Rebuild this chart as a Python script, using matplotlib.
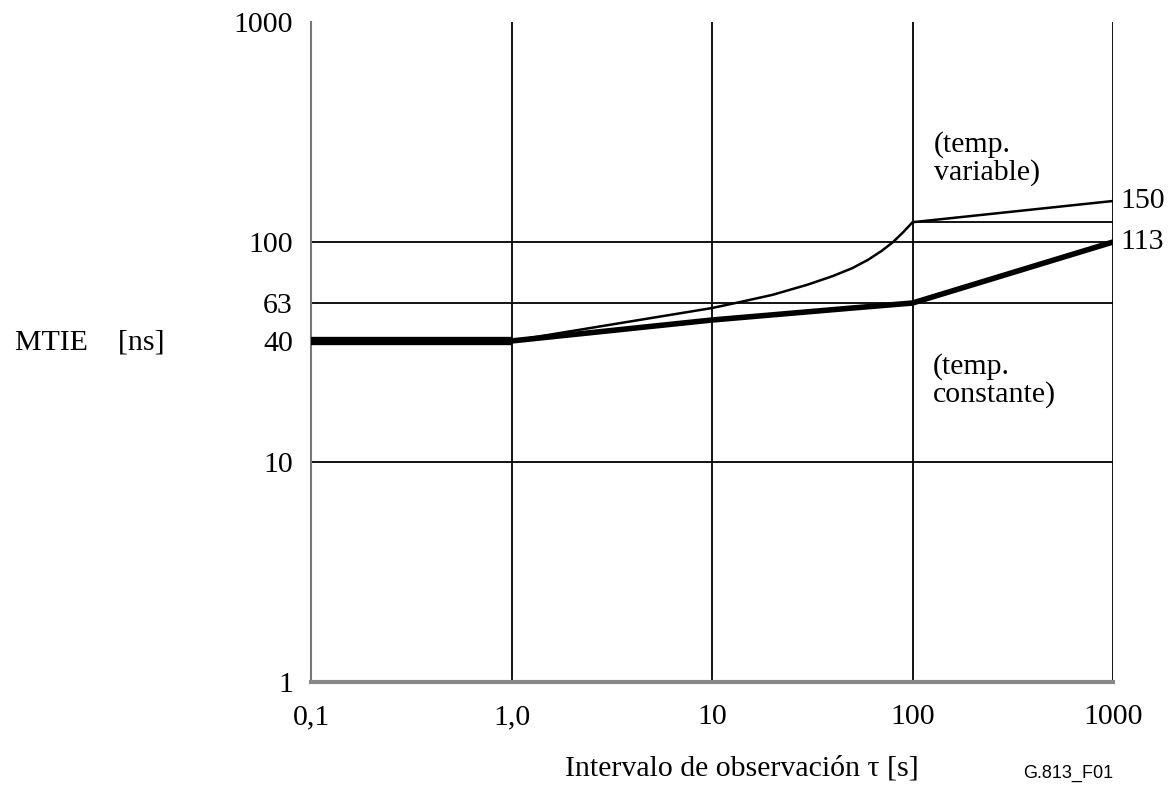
import numpy as np
import matplotlib
matplotlib.use("Agg")
import matplotlib.pyplot as plt

plt.rcParams['font.family'] = ['Liberation Serif', 'DejaVu Serif']

# curva "temp. constante" (trazo grueso)
tau_const = [0.1, 1.0, 10, 50, 100, 1000]
mtie_const = [35.5, 35.5, 44.2, 50.1, 52.8, 100]
# curva "temp. variable" (trazo fino)
tau_var = [1.0, 10, 14, 20, 30, 40, 50, 60, 70, 80, 90, 100, 1000]
mtie_var = [35.5, 50.1, 53.5, 57.5, 64, 70, 76, 83, 91, 100, 111, 123, 153.6]
# linea de referencia a la altura del codo de la curva variable
ref_level = 123

x_ticks = [0.1, 1.0, 10, 100, 1000]
x_labels = ['0,1', '1,0', '10', '100', '1000']
y_ticks = [1, 10, 35.5, 52.8, 100, 1000]
y_labels = ['1', '10', '40', '63', '100', '1000']

fs = 21.5

fig = plt.figure(figsize=(11.72, 7.85), dpi=100)
ax = fig.add_axes([0.2654, 0.1312, 0.6843, 0.8408])
ax.set_xscale('log')
ax.set_yscale('log')
ax.set_xlim(0.1, 1000)
ax.set_ylim(1, 1000)

# rejilla
for xv in x_ticks[1:]:
    ax.axvline(xv, color='black', lw=1.3, zorder=1)
for yv in [10, 52.8, 100]:
    ax.axhline(yv, color='black', lw=1.3, zorder=1)
ax.hlines(ref_level, 100, 1000, color='black', lw=1.3, zorder=1)

# curvas
ax.plot(tau_const[:2], mtie_const[:2], color='black', lw=6, solid_capstyle='butt', zorder=3)
ax.plot(tau_const[1:], mtie_const[1:], color='black', lw=4, solid_joinstyle='round', zorder=3)
ax.plot(tau_var, mtie_var, color='black', lw=1.8, zorder=3)

ax.set_xticks(x_ticks)
ax.set_xticklabels(x_labels)
ax.set_yticks(y_ticks)
ax.set_yticklabels(y_labels)
ax.minorticks_off()
ax.tick_params(axis='both', length=0, labelsize=fs)
ax.tick_params(axis='x', pad=16)
ax.tick_params(axis='y', pad=13)

ax.spines['top'].set_visible(False)
ax.spines['right'].set_visible(False)
ax.spines['left'].set_color('#777777')
ax.spines['left'].set_linewidth(1.5)
ax.spines['bottom'].set_color('#888888')
ax.spines['bottom'].set_linewidth(3)

# etiquetas a la derecha
ax.annotate('150', (1000, mtie_var[-1]), xytext=(5, 0), textcoords='offset points',
            va='center', ha='left', fontsize=fs, annotation_clip=False)
ax.annotate('113', (1000, mtie_const[-1]), xytext=(5, 0), textcoords='offset points',
            va='center', ha='left', fontsize=fs, annotation_clip=False)

ax.text(128, 240, '(temp.\nvariable)', fontsize=fs, va='center', ha='left', linespacing=1.05)
ax.text(126, 23.5, '(temp.\nconstante)', fontsize=fs, va='center', ha='left', linespacing=1.05)

fig.text(15 / 1172, 1 - 342 / 785, 'MTIE    [ns]', fontsize=fs, va='center', ha='left')
fig.text(742 / 1172, 1 - 768 / 785, 'Intervalo de observación τ [s]', fontsize=fs,
         va='center', ha='center')
fig.text(1068 / 1172, 1 - 773 / 785, 'G.813_F01', fontsize=13, va='center', ha='center',
         family=['Liberation Sans Narrow', 'Liberation Sans', 'DejaVu Sans'])

fig.savefig('out.png', dpi=100)
